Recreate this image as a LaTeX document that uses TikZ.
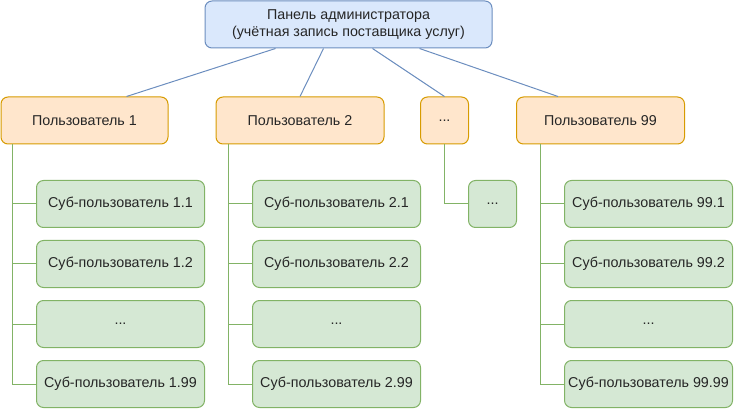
\documentclass[tikz,border=0pt]{standalone}
\usepackage{fontspec}
\setmainfont{Liberation Sans}
\definecolor{bfill}{HTML}{DAE8FC}
\definecolor{bdraw}{HTML}{6C8EBF}
\definecolor{ofill}{HTML}{FFE6CC}
\definecolor{odraw}{HTML}{D79B00}
\definecolor{gfill}{HTML}{D5E8D4}
\definecolor{gdraw}{HTML}{82B366}
\tikzset{
  box/.style={rectangle, rounded corners=7pt, line width=1pt, inner sep=0pt, align=center,
    font=\fontsize{14.3}{17.6}\selectfont, text=black!85},
  topbox/.style={box, fill=bfill, draw=bdraw, minimum width=287pt, minimum height=47pt},
  userbox/.style={box, fill=ofill, draw=odraw, minimum width=168pt, minimum height=47pt},
  subbox/.style={box, fill=gfill, draw=gdraw, minimum width=168pt, minimum height=47pt},
  narrow/.style={minimum width=48pt},
  bline/.style={draw=bdraw, line width=1pt},
  gline/.style={draw=gdraw, line width=1pt},
}
\begin{document}
\begin{tikzpicture}[x=1pt,y=-1pt]
\useasboundingbox (0,0) rectangle (735,411);
\node[topbox] (top) at (348.5,24.5) {Панель администратора\\(учётная запись поставщика услуг)};
\node[userbox, minimum width=167pt] (u1) at (84.5,120.5) {Пользователь 1};
\node[userbox] (u2) at (300,120.5) {Пользователь 2};
\node[userbox, narrow] (ud) at (444.5,120.5) {...};
\node[userbox] (u99) at (600.5,120.5) {Пользователь 99};

\node[subbox] (s11) at (120.5,204) {Суб-пользователь 1.1};
\node[subbox] (s12) at (120.5,264) {Суб-пользователь 1.2};
\node[subbox] (s1d) at (120.5,324) {...};
\node[subbox] (s199) at (120.5,384) {Суб-пользователь 1.99};

\node[subbox] (s21) at (336.5,204) {Суб-пользователь 2.1};
\node[subbox] (s22) at (336.5,264) {Суб-пользователь 2.2};
\node[subbox] (s2d) at (336.5,324) {...};
\node[subbox] (s299) at (336.5,384) {Суб-пользователь 2.99};

\node[subbox, narrow] (sd) at (492.5,204) {...};

\node[subbox] (s991) at (648.5,204) {Суб-пользователь 99.1};
\node[subbox] (s992) at (648.5,264) {Суб-пользователь 99.2};
\node[subbox] (s99d) at (648.5,324) {...};
\node[subbox] (s9999) at (648.5,384) {Суб-пользователь 99.99};

% top connectors
\draw[bline] ([xshift=71pt]top.south west) -- ([xshift=126pt]u1.north west);
\draw[bline] ([xshift=119pt]top.south west) -- (u2.north);
\draw[bline] ([xshift=168pt]top.south west) -- (ud.north);
\draw[bline] ([xshift=215pt]top.south west) -- ([xshift=42pt]u99.north west);

% branches
\foreach \s in {s11,s12,s1d,s199}
  \draw[gline] ([xshift=11.5pt]u1.south west) |- (\s.west);
\foreach \s in {s21,s22,s2d,s299}
  \draw[gline] ([xshift=12.5pt]u2.south west) |- (\s.west);
\draw[gline] (ud.south) |- (sd.west);
\foreach \s in {s991,s992,s99d,s9999}
  \draw[gline] ([xshift=24pt]u99.south west) |- (\s.west);
\end{tikzpicture}
\end{document}
